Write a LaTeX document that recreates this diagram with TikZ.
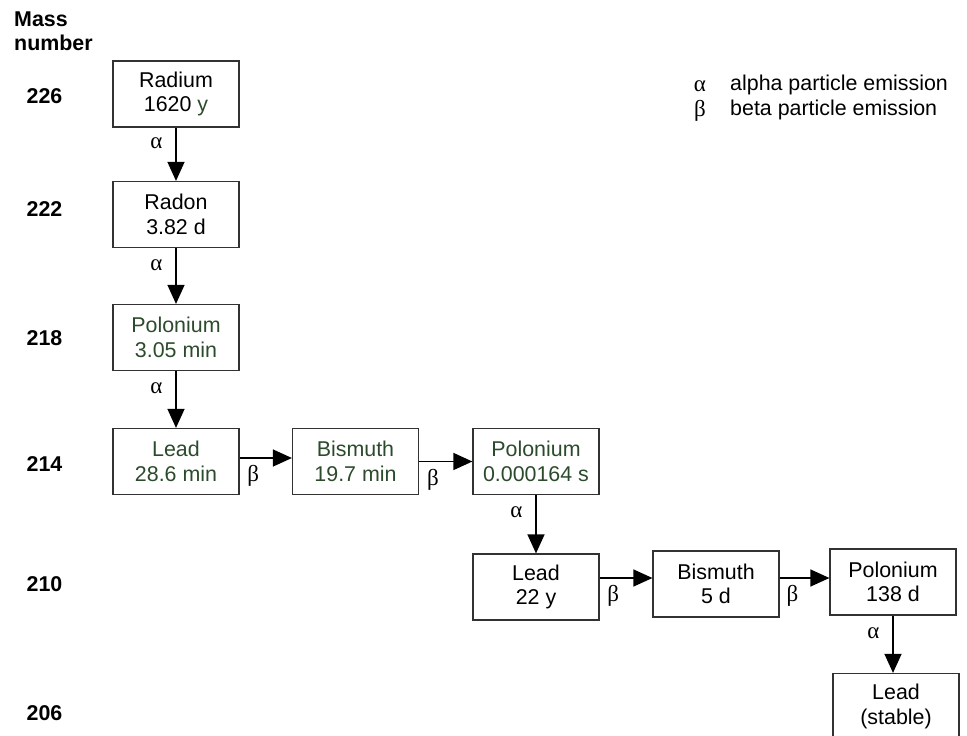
\documentclass[tikz,border=0pt]{standalone}
\usepackage{fontspec}
\setmainfont{Liberation Sans}
\newfontfamily\grk{Liberation Serif}
\usetikzlibrary{arrows.meta,calc}
\definecolor{dgreen}{RGB}{44,74,44}
\definecolor{boxline}{RGB}{50,50,50}
\tikzset{
  every node/.style={inner sep=0pt, font=\fontsize{21.4}{24.5}\selectfont},
  nuc/.style={draw=boxline, line width=1.2pt, minimum width=126pt, minimum height=66pt, align=center},
  green/.style={text=dgreen},
  arr/.style={line width=1.3pt, -{Triangle[length=19pt,width=17pt]}},
  alab/.style={pos=0.3, anchor=east, xshift=-13pt, font=\grk\fontsize{23}{24}\selectfont},
  blab/.style={pos=0.26, anchor=center, yshift=-18pt, font=\grk\fontsize{23}{24}\selectfont},
  mass/.style={font=\bfseries\fontsize{21.4}{24}\selectfont},
  leg/.style={anchor=base west},
  legsym/.style={anchor=base, font=\grk\fontsize{23}{24}\selectfont}
}
\begin{document}
\begin{tikzpicture}[x=1pt,y=-1pt]
\useasboundingbox (0,0) rectangle (967,736);
% heading
\node[mass, anchor=north west, align=left, font=\bfseries\fontsize{21.4}{23.5}\selectfont] (head) at (14,11.7) {Mass\\number};
% mass numbers
\node[mass] (m226) at (44.5,96) {226};
\node[mass] (m222) at (44.5,209) {222};
\node[mass] (m218) at (44.5,338) {218};
\node[mass] (m214) at (44.5,464) {214};
\node[mass] (m210) at (44.5,584) {210};
\node[mass] (m206) at (44.5,713) {206};
% nuclides
\node[nuc] (ra) at (176,94) {Radium\\1620 \textcolor{dgreen}{y}};
\node[nuc] (rn) at (176,214.5) {Radon\\3.82 d};
\node[nuc, green] (po218) at (176,337.5) {Polonium\\3.05 min};
\node[nuc, green] (pb214) at (176,461.5) {Lead\\28.6 min};
\node[nuc, green] (bi214) at (355.5,461.5) {Bismuth\\19.7 min};
\node[nuc, green] (po214) at (536,461.5) {Polonium\\0.000164 s};
\node[nuc] (pb210) at (536,587) {Lead\\22 y};
\node[nuc] (bi210) at (716,584) {Bismuth\\5 d};
\node[nuc] (po210) at (893,582) {Polonium\\138 d};
\node[nuc] (pb206) at (896,706.5) {Lead\\(stable)};
% decays
\draw[arr] (ra) -- node[alab]{α} (rn);
\draw[arr] (rn) -- node[alab]{α} (po218);
\draw[arr] (po218) -- node[alab]{α} (pb214);
\draw[arr] ([yshift=3.5pt]pb214.east) -- node[blab]{β} ([yshift=3.5pt]pb214.east -| bi214.west);
\draw[arr] (bi214.east) -- node[blab]{β} (bi214.east -| po214.west);
\draw[arr] (po214) -- node[alab]{α} (pb210);
\draw[arr] ([yshift=9pt]pb210.east) -- node[blab]{β} ([yshift=9pt]pb210.east -| bi210.west);
\draw[arr] ([yshift=6pt]bi210.east) -- node[blab]{β} ([yshift=6pt]bi210.east -| po210.west);
\draw[arr] (po210.south) -- node[alab]{α} (po210.south |- pb206.north);
% legend
\node[legsym] (la) at (700,91) {α};
\node[leg] (lat) at (730,90) {alpha particle emission};
\node[legsym] (lb) at (700,116) {β};
\node[leg] (lbt) at (730,115) {beta particle emission};
\end{tikzpicture}
\end{document}
